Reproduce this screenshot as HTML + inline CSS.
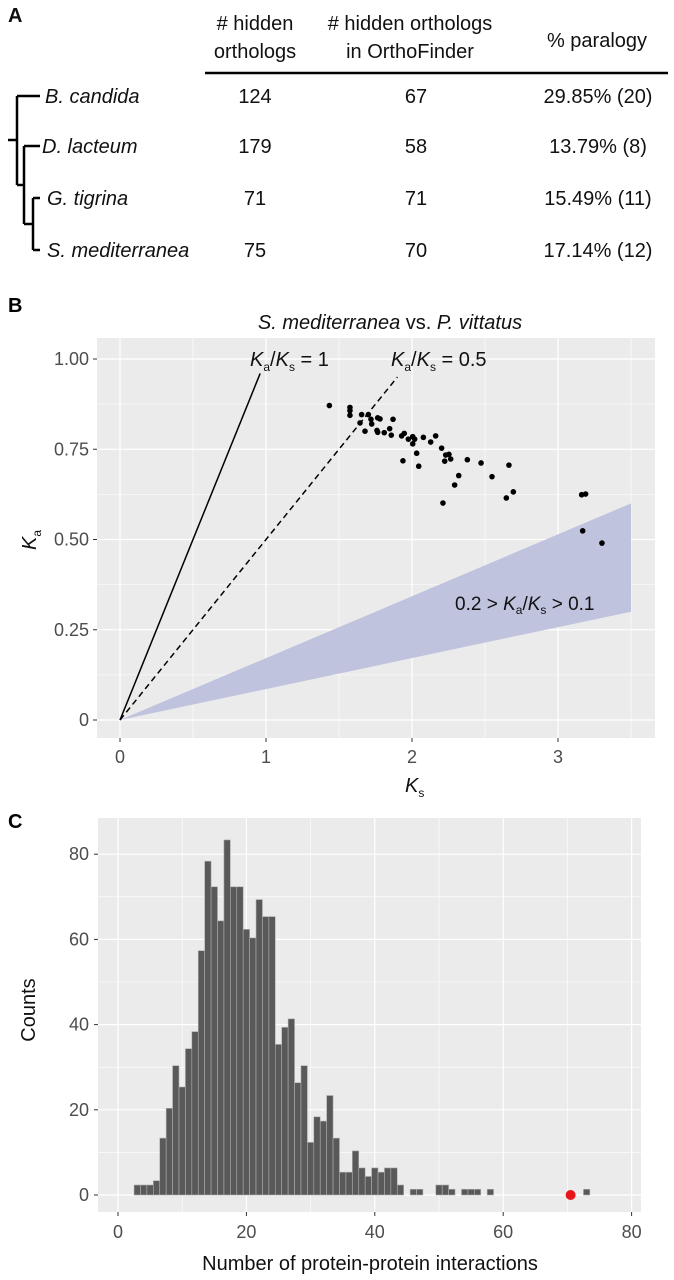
<!DOCTYPE html>
<html><head><meta charset="utf-8">
<style>
body{margin:0;background:#fff;}
svg{display:block;font-family:"Liberation Sans",sans-serif;}
</style></head>
<body>
<svg id="fig" width="674" height="1280" viewBox="0 0 674 1280" xmlns="http://www.w3.org/2000/svg">
  <!-- Panel A -->
  <g font-size="20" fill="#111">
    <text x="8" y="22" font-weight="bold" font-size="20">A</text>
    <text x="255" y="30" text-anchor="middle">
      <tspan x="255" y="30"># hidden</tspan><tspan x="255" y="58">orthologs</tspan></text>
    <text x="410" y="30" text-anchor="middle">
      <tspan x="410" y="30"># hidden orthologs</tspan><tspan x="410" y="58">in OrthoFinder</tspan></text>
    <text x="597" y="47" text-anchor="middle">% paralogy</text>
    <line x1="205" y1="73" x2="668" y2="73" stroke="#000" stroke-width="2.5"/>
    <g stroke="#000" stroke-width="2.5" fill="none">
      <path d="M8 140 H17 M17 96 V185 M17 96 H40 M17 185 H24 M24 146 V224 M24 146 H40 M24 224 H33 M33 198 V250 M33 198 H40 M33 250 H40"/>
    </g>
    <g font-style="italic">
      <text x="45" y="103">B. candida</text>
      <text x="42" y="153">D. lacteum</text>
      <text x="47" y="205">G. tigrina</text>
      <text x="47" y="257">S. mediterranea</text>
    </g>
    <g text-anchor="middle">
      <text x="255" y="103">124</text><text x="255" y="153">179</text><text x="255" y="205">71</text><text x="255" y="257">75</text>
    </g>
    <g text-anchor="middle">
      <text x="416" y="103">67</text><text x="416" y="153">58</text><text x="416" y="205">71</text><text x="416" y="257">70</text>
    </g>
    <g text-anchor="middle">
      <text x="598" y="103">29.85% (20)</text><text x="598" y="153">13.79% (8)</text><text x="598" y="205">15.49% (11)</text><text x="598" y="257">17.14% (12)</text>
    </g>
  </g>
  <g id="panelB"></g>
  <g id="panelC"></g>
</svg>
<script>
// ---- Panel B data ----
const ksValues = [1.434,1.575,1.575,1.575,1.655,1.701,1.719,1.724,1.644,1.678,1.765,1.781,1.760,1.765,1.81,1.847,1.858,1.870,1.929,1.947,1.975,2.005,2.018,2.005,2.078,2.128,2.162,2.032,1.938,2.046,2.203,2.231,2.253,2.265,2.224,2.379,2.473,2.664,2.32,2.292,2.548,2.694,2.646,2.212,3.162,3.189,3.169,3.301];
const kaValues = [0.871,0.866,0.857,0.844,0.846,0.846,0.833,0.820,0.823,0.800,0.837,0.834,0.802,0.797,0.796,0.807,0.789,0.833,0.787,0.794,0.778,0.785,0.778,0.765,0.783,0.770,0.787,0.739,0.718,0.703,0.753,0.734,0.736,0.723,0.717,0.721,0.712,0.706,0.677,0.651,0.674,0.632,0.615,0.601,0.624,0.626,0.524,0.490];
const ksTicks = [0,1,2,3];
const kaTicks = [0,0.25,0.5,0.75,1.0];
const kaTickLabels = ["0","0.25","0.50","0.75","1.00"];
const bandKs = [0,3.5];
const bandUpper = [0,0.6];
const bandLower = [0,0.3];
// ---- Panel C data ----
const binCenters = [3,4,5,6,7,8,9,10,11,12,13,14,15,16,17,18,19,20,21,22,23,24,25,26,27,28,29,30,31,32,33,34,35,36,37,38,39,40,41,42,43,44,46,47,50,51,52,54,55,56,58,73];
const binCounts  = [2,2,2,3,13,20,30,25,34,38,57,78,72,64,83,72,72,62,60,69,65,65,35,39,41,26,30,12,18,17,23,13,5,5,10,6,4,6,5,6,6,2,1,1,2,2,1,1,1,1,1,1];
const countTicks = [0,20,40,60,80];
const nTicks = [0,20,40,60,80];
const highlightValue = 70.5;

const NS="http://www.w3.org/2000/svg";
function mk(parent,tag,attrs,text){const e=document.createElementNS(NS,tag);for(const k in attrs)e.setAttribute(k,attrs[k]);if(text!==undefined)e.textContent=text;parent.appendChild(e);return e;}

// Panel B
(function(){
  const g=document.getElementById('panelB');
  const X=v=>120+v*146, Y=v=>720-v*361;
  const t=mk(g,'text',{x:8,y:312,'font-weight':'bold','font-size':20});t.textContent='B';
  
  
  const title=mk(g,'text',{x:390,y:329,'text-anchor':'middle','font-size':20,fill:'#111'});
  
  
  mk(title,'tspan',{'font-style':'italic'},'S. mediterranea');mk(title,'tspan',{},' vs. ');mk(title,'tspan',{'font-style':'italic'},'P. vittatus');
  const bg=mk(g,'rect',{x:97,y:338,width:558,height:400,fill:'#ebebeb'});
  
  
  for(let v=-0.5;v<=3.6;v+=0.5){const l=mk(g,'line',{x1:X(v),x2:X(v),y1:338,y2:738,stroke:'#fff','stroke-width':(v%1===0)?1.2:0.6});
    
    }
  for(let v=0;v<=1.05;v+=0.125){const l=mk(g,'line',{x1:97,x2:655,y1:Y(v),y2:Y(v),stroke:'#fff','stroke-width':(Math.round(v*8)%2===0)?1.2:0.6});
    
    }
  const band=mk(g,'polygon',{points:`${X(bandKs[0])},${Y(bandUpper[0])} ${X(bandKs[1])},${Y(bandUpper[1])} ${X(bandKs[1])},${Y(bandLower[1])} ${X(bandKs[0])},${Y(bandLower[0])}`,fill:'#bfc3de'});
  
  
  const l1=mk(g,'line',{x1:X(0),y1:Y(0),x2:X(0.96),y2:Y(0.96),stroke:'#000','stroke-width':1.5});
  
  
  const l2=mk(g,'line',{x1:X(0),y1:Y(0),x2:X(1.9),y2:Y(0.95),stroke:'#000','stroke-width':1.5,'stroke-dasharray':'6,4'});
  
  
  for(let i=0;i<ksValues.length;i++){const c=mk(g,'circle',{cx:X(ksValues[i]),cy:Y(kaValues[i]),r:2.8,fill:'#000'});
    
    }
  function kLabel(x,y,val,name){const tx=mk(g,'text',{x:x,y:y,'font-size':20,fill:'#111'});
    
    
    mk(tx,'tspan',{'font-style':'italic'},'K');mk(tx,'tspan',{'font-size':12,dy:5},'a');mk(tx,'tspan',{dy:-5},'/');mk(tx,'tspan',{'font-style':'italic'},'K');mk(tx,'tspan',{'font-size':12,dy:5},'s');mk(tx,'tspan',{dy:-5},val);}
  kLabel(250,366,' = 1','ratio-1-label');
  kLabel(391,366,' = 0.5','ratio-half-label');
  const bl=mk(g,'text',{x:455,y:610,'font-size':19,fill:'#111'});
  
  
  mk(bl,'tspan',{},'0.2 > ');mk(bl,'tspan',{'font-style':'italic'},'K');mk(bl,'tspan',{'font-size':12,dy:4},'a');mk(bl,'tspan',{dy:-4},'/');mk(bl,'tspan',{'font-style':'italic'},'K');mk(bl,'tspan',{'font-size':12,dy:4},'s');mk(bl,'tspan',{dy:-4},' > 0.1');
  ksTicks.forEach(v=>{const tx=mk(g,'text',{x:X(v),y:763,'text-anchor':'middle','font-size':18,fill:'#4d4d4d'},String(v));
    
    
    mk(g,'line',{x1:X(v),x2:X(v),y1:738,y2:742,stroke:'#333'});});
  kaTicks.forEach((v,i)=>{const tx=mk(g,'text',{x:89,y:Y(v)+6,'text-anchor':'end','font-size':18,fill:'#4d4d4d'},kaTickLabels[i]);
    
    
    mk(g,'line',{x1:93,x2:97,y1:Y(v),y2:Y(v),stroke:'#333'});});
  const xt=mk(g,'text',{x:405,y:792,'font-size':20,fill:'#111'});
  
  
  mk(xt,'tspan',{'font-style':'italic'},'K');mk(xt,'tspan',{'font-size':12,dy:5},'s');
  const yt=mk(g,'text',{x:0,y:0,'font-size':20,fill:'#111',transform:'translate(36,550) rotate(-90)'});
  
  
  mk(yt,'tspan',{'font-style':'italic'},'K');mk(yt,'tspan',{'font-size':12,dy:5},'a');
})();

// Panel C
(function(){
  const g=document.getElementById('panelC');
  const X=v=>118+v*6.42, Y=v=>1195-v*4.26;
  const t=mk(g,'text',{x:8,y:828,'font-weight':'bold','font-size':20},'C');
  
  
  const bg=mk(g,'rect',{x:98,y:818,width:543,height:394,fill:'#ebebeb'});
  
  
  for(let v=-10;v<=80;v+=10){if(X(v)<98)continue;const l=mk(g,'line',{x1:X(v),x2:X(v),y1:818,y2:1212,stroke:'#fff','stroke-width':(v%20===0)?1.2:0.6});
    
    }
  for(let v=0;v<=90;v+=10){if(Y(v)<818)continue;const l=mk(g,'line',{x1:98,x2:641,y1:Y(v),y2:Y(v),stroke:'#fff','stroke-width':(v%20===0)?1.2:0.6});
    
    }
  for(let i=0;i<binCenters.length;i++){
    const x0=X(binCenters[i]-0.5), h=binCounts[i]*4.26;
    const r=mk(g,'rect',{x:x0,y:Y(binCounts[i])-1.5,width:6.42,height:h+1.5,fill:'#595959',stroke:'#b0b0b0','stroke-width':0.6});
    
    
  }
  const dot=mk(g,'circle',{cx:X(highlightValue),cy:Y(0),r:5,fill:'#e8161b'});
  
  
  nTicks.forEach(v=>{const tx=mk(g,'text',{x:X(v),y:1238,'text-anchor':'middle','font-size':18,fill:'#4d4d4d'},String(v));
    
    
    mk(g,'line',{x1:X(v),x2:X(v),y1:1212,y2:1216,stroke:'#333'});});
  countTicks.forEach(v=>{const tx=mk(g,'text',{x:89,y:Y(v)+6,'text-anchor':'end','font-size':18,fill:'#4d4d4d'},String(v));
    
    
    mk(g,'line',{x1:94,x2:98,y1:Y(v),y2:Y(v),stroke:'#333'});});
  const xt=mk(g,'text',{x:370,y:1270,'text-anchor':'middle','font-size':20,fill:'#111'},'Number of protein-protein interactions');
  
  
  const yt=mk(g,'text',{x:0,y:0,'text-anchor':'middle','font-size':20,fill:'#111',transform:'translate(35,1010) rotate(-90)'},'Counts');
  
  
})();
</script>
</body></html>
